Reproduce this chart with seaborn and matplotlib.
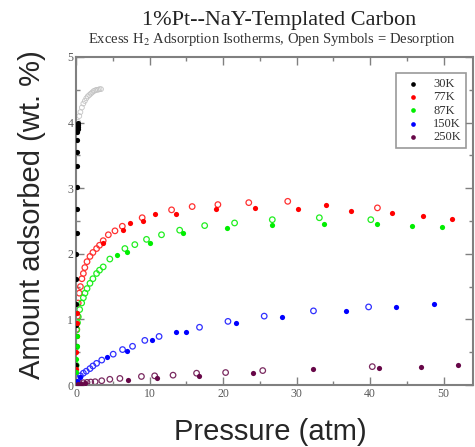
import matplotlib
matplotlib.use("Agg")
import matplotlib.pyplot as plt
import seaborn as sns

# 30 K
p30_ads = [0.0, 0.01, 0.02, 0.03, 0.04, 0.05, 0.06, 0.08, 0.10, 0.12, 0.14, 0.16, 0.18, 0.20, 0.22, 0.25, 0.28, 0.30]
w30_ads = [0.05, 0.30, 0.60, 0.92, 1.23, 1.62, 2.00, 2.32, 2.68, 3.02, 3.34, 3.55, 3.73, 3.85, 3.90, 3.94, 3.97, 4.00]
p30_des = [0.30, 0.45, 0.6, 0.8, 1.0, 1.2, 1.4, 1.6, 1.8, 2.0, 2.2, 2.4, 2.6, 2.8, 3.0, 3.2, 3.4]
w30_des = [4.01, 4.10, 4.16, 4.23, 4.29, 4.33, 4.37, 4.40, 4.42, 4.44, 4.46, 4.48, 4.49, 4.50, 4.50, 4.51, 4.51]

# 77 K
p77_ads = [0.0, 0.02, 0.05, 0.1, 0.15, 0.2, 3.7, 6.4, 7.4, 9.1, 10.7, 13.6, 19.0, 24.4, 30.2, 34.0, 37.4, 43.0, 47.2, 51.1]
w77_ads = [0.05, 0.25, 0.50, 0.75, 0.95, 1.10, 2.17, 2.37, 2.47, 2.50, 2.61, 2.60, 2.68, 2.70, 2.68, 2.75, 2.65, 2.62, 2.57, 2.53]
p77_des = [0.1, 0.2, 0.3, 0.45, 0.6, 0.8, 1.0, 1.2, 1.5, 1.9, 2.3, 2.8, 3.2, 3.7, 4.4, 5.3, 6.3, 9.0, 13.0, 15.8, 19.3, 23.5, 28.8, 41.0]
w77_des = [0.85, 1.05, 1.25, 1.40, 1.50, 1.62, 1.70, 1.79, 1.88, 1.96, 2.02, 2.08, 2.13, 2.20, 2.29, 2.35, 2.42, 2.55, 2.67, 2.72, 2.75, 2.78, 2.80, 2.70]

# 87 K
p87_ads = [0.0, 0.02, 0.05, 0.1, 0.15, 5.6, 6.9, 10.0, 14.56, 20.58, 26.7, 33.8, 41.0, 45.7, 49.8]
w87_ads = [0.05, 0.20, 0.40, 0.60, 0.75, 1.98, 2.02, 2.17, 2.31, 2.39, 2.44, 2.46, 2.46, 2.43, 2.41]
p87_des = [0.02, 0.05, 0.1, 0.2, 0.31, 0.5, 0.77, 1.0, 1.22, 1.5, 1.9, 2.3, 2.8, 3.2, 3.7, 4.6, 6.65, 8.0, 9.59, 11.63, 14.1, 17.5, 21.57, 26.7, 33.1, 40.1]
w87_des = [0.30, 0.58, 0.84, 0.95, 1.04, 1.15, 1.25, 1.33, 1.40, 1.47, 1.55, 1.62, 1.70, 1.75, 1.80, 1.92, 2.08, 2.14, 2.22, 2.29, 2.36, 2.43, 2.47, 2.52, 2.55, 2.52]

# 150 K
p150_ads = [0.0, 0.2, 0.5, 4.16, 6.9, 10.27, 13.66, 15.0, 21.7, 28.0, 36.7, 43.5, 48.7]
w150_ads = [0.02, 0.06, 0.12, 0.42, 0.52, 0.68, 0.81, 0.81, 0.94, 1.03, 1.13, 1.19, 1.23]
p150_des = [0.3, 0.6, 1.0, 1.4, 1.9, 2.3, 2.8, 3.5, 5.06, 6.33, 7.69, 9.36, 11.3, 16.8, 20.67, 25.6, 32.3, 39.8]
w150_des = [0.10, 0.14, 0.18, 0.21, 0.25, 0.29, 0.33, 0.38, 0.47, 0.54, 0.59, 0.68, 0.74, 0.88, 0.97, 1.05, 1.13, 1.19]

# 250 K
p250_ads = [0.0, 0.3, 0.7, 1.2, 7.1, 10.95, 16.7, 24.06, 32.3, 41.15, 46.9, 51.9]
w250_ads = [0.0, 0.01, 0.02, 0.03, 0.076, 0.10, 0.14, 0.19, 0.24, 0.26, 0.28, 0.30]
p250_des = [0.5, 1.0, 1.5, 2.0, 2.6, 3.5, 4.6, 5.97, 8.9, 10.7, 13.2, 16.4, 20.35, 25.4, 40.3]
w250_des = [0.02, 0.035, 0.04, 0.045, 0.05, 0.065, 0.087, 0.10, 0.13, 0.14, 0.15, 0.18, 0.19, 0.22, 0.28]

labels = ["30K", "77K", "87K", "150K", "250K"]
colors = ["#000000", "#ff0000", "#00ee00", "#0000ff", "#670748"]
open_colors = ["#c4c4c4", "#ff3030", "#20ee20", "#3030ff", "#7a2a60"]

series = [
    (p30_ads, w30_ads, p30_des, w30_des),
    (p77_ads, w77_ads, p77_des, w77_des),
    (p87_ads, w87_ads, p87_des, w87_des),
    (p150_ads, w150_ads, p150_des, w150_des),
    (p250_ads, w250_ads, p250_des, w250_des),
]

sns.set_style("ticks")
plt.rcParams["font.family"] = ["Liberation Serif", "DejaVu Serif"]
plt.rcParams["mathtext.fontset"] = "stix"

fig = plt.figure(figsize=(4.75, 4.47), dpi=100)
ax = fig.add_axes([76 / 475, 1 - 385 / 447, 397 / 475, 328 / 447])

for i, (lab, c, oc, (pa, wa, pd_, wd)) in enumerate(zip(labels, colors, open_colors, series)):
    # open symbols = desorption
    sns.scatterplot(x=pd_, y=wd, ax=ax, marker="o", s=12 if i == 0 else 16,
                    facecolor="none", edgecolor=oc, linewidth=0.6 if i == 0 else 0.9,
                    legend=False, zorder=2)
    sns.scatterplot(x=pa, y=wa, ax=ax, marker="o", s=14, color=c,
                    linewidth=0, label=lab, zorder=3)

ax.set_xlim(0, 54)
ax.set_ylim(0, 5)
ax.set_xticks(range(0, 51, 10))
ax.set_xticks(range(5, 55, 10), minor=True)
ax.set_yticks(range(0, 6))
ax.set_yticks([0.5, 1.5, 2.5, 3.5, 4.5], minor=True)
ax.tick_params(which="both", direction="in", top=True, right=True,
               color="#808080", labelcolor="#5a5a5a", labelsize=8.5, pad=2)
ax.tick_params(which="major", length=6, width=1)
ax.tick_params(which="minor", length=3, width=1)
for sp in ax.spines.values():
    sp.set_color("#808080")
    sp.set_linewidth(1.5)
ax.set_xlabel("")
ax.set_ylabel("")

leg = ax.legend(loc="upper right", bbox_to_anchor=(0.982, 0.951), borderaxespad=0,
                frameon=True, fancybox=False, edgecolor="#808080", fontsize=9,
                handletextpad=0.6, borderpad=0.4, labelspacing=0.1, markerscale=0.9)
leg.get_frame().set_linewidth(1.2)
for t in leg.get_texts():
    t.set_color("#333333")

fig.text(279 / 475, 1 - 20 / 447, "1%Pt--NaY-Templated Carbon", ha="center", va="center",
         fontsize=16, color="#222222")
fig.text(272 / 475, 1 - 40 / 447,
         "Excess H$_2$ Adsorption Isotherms, Open Symbols = Desorption",
         ha="center", va="center", fontsize=10.5, color="#333333")

fig.text(32 / 475, 1 - 215 / 447, "Amount adsorbed (wt. %)", rotation=90,
         ha="center", va="center", fontsize=21, family=["Liberation Sans", "DejaVu Sans"])
fig.text(270 / 475, 1 - 432 / 447, "Pressure (atm)", ha="center", va="center",
         fontsize=21, family=["Liberation Sans", "DejaVu Sans"])

fig.savefig("out.png", dpi=100)
